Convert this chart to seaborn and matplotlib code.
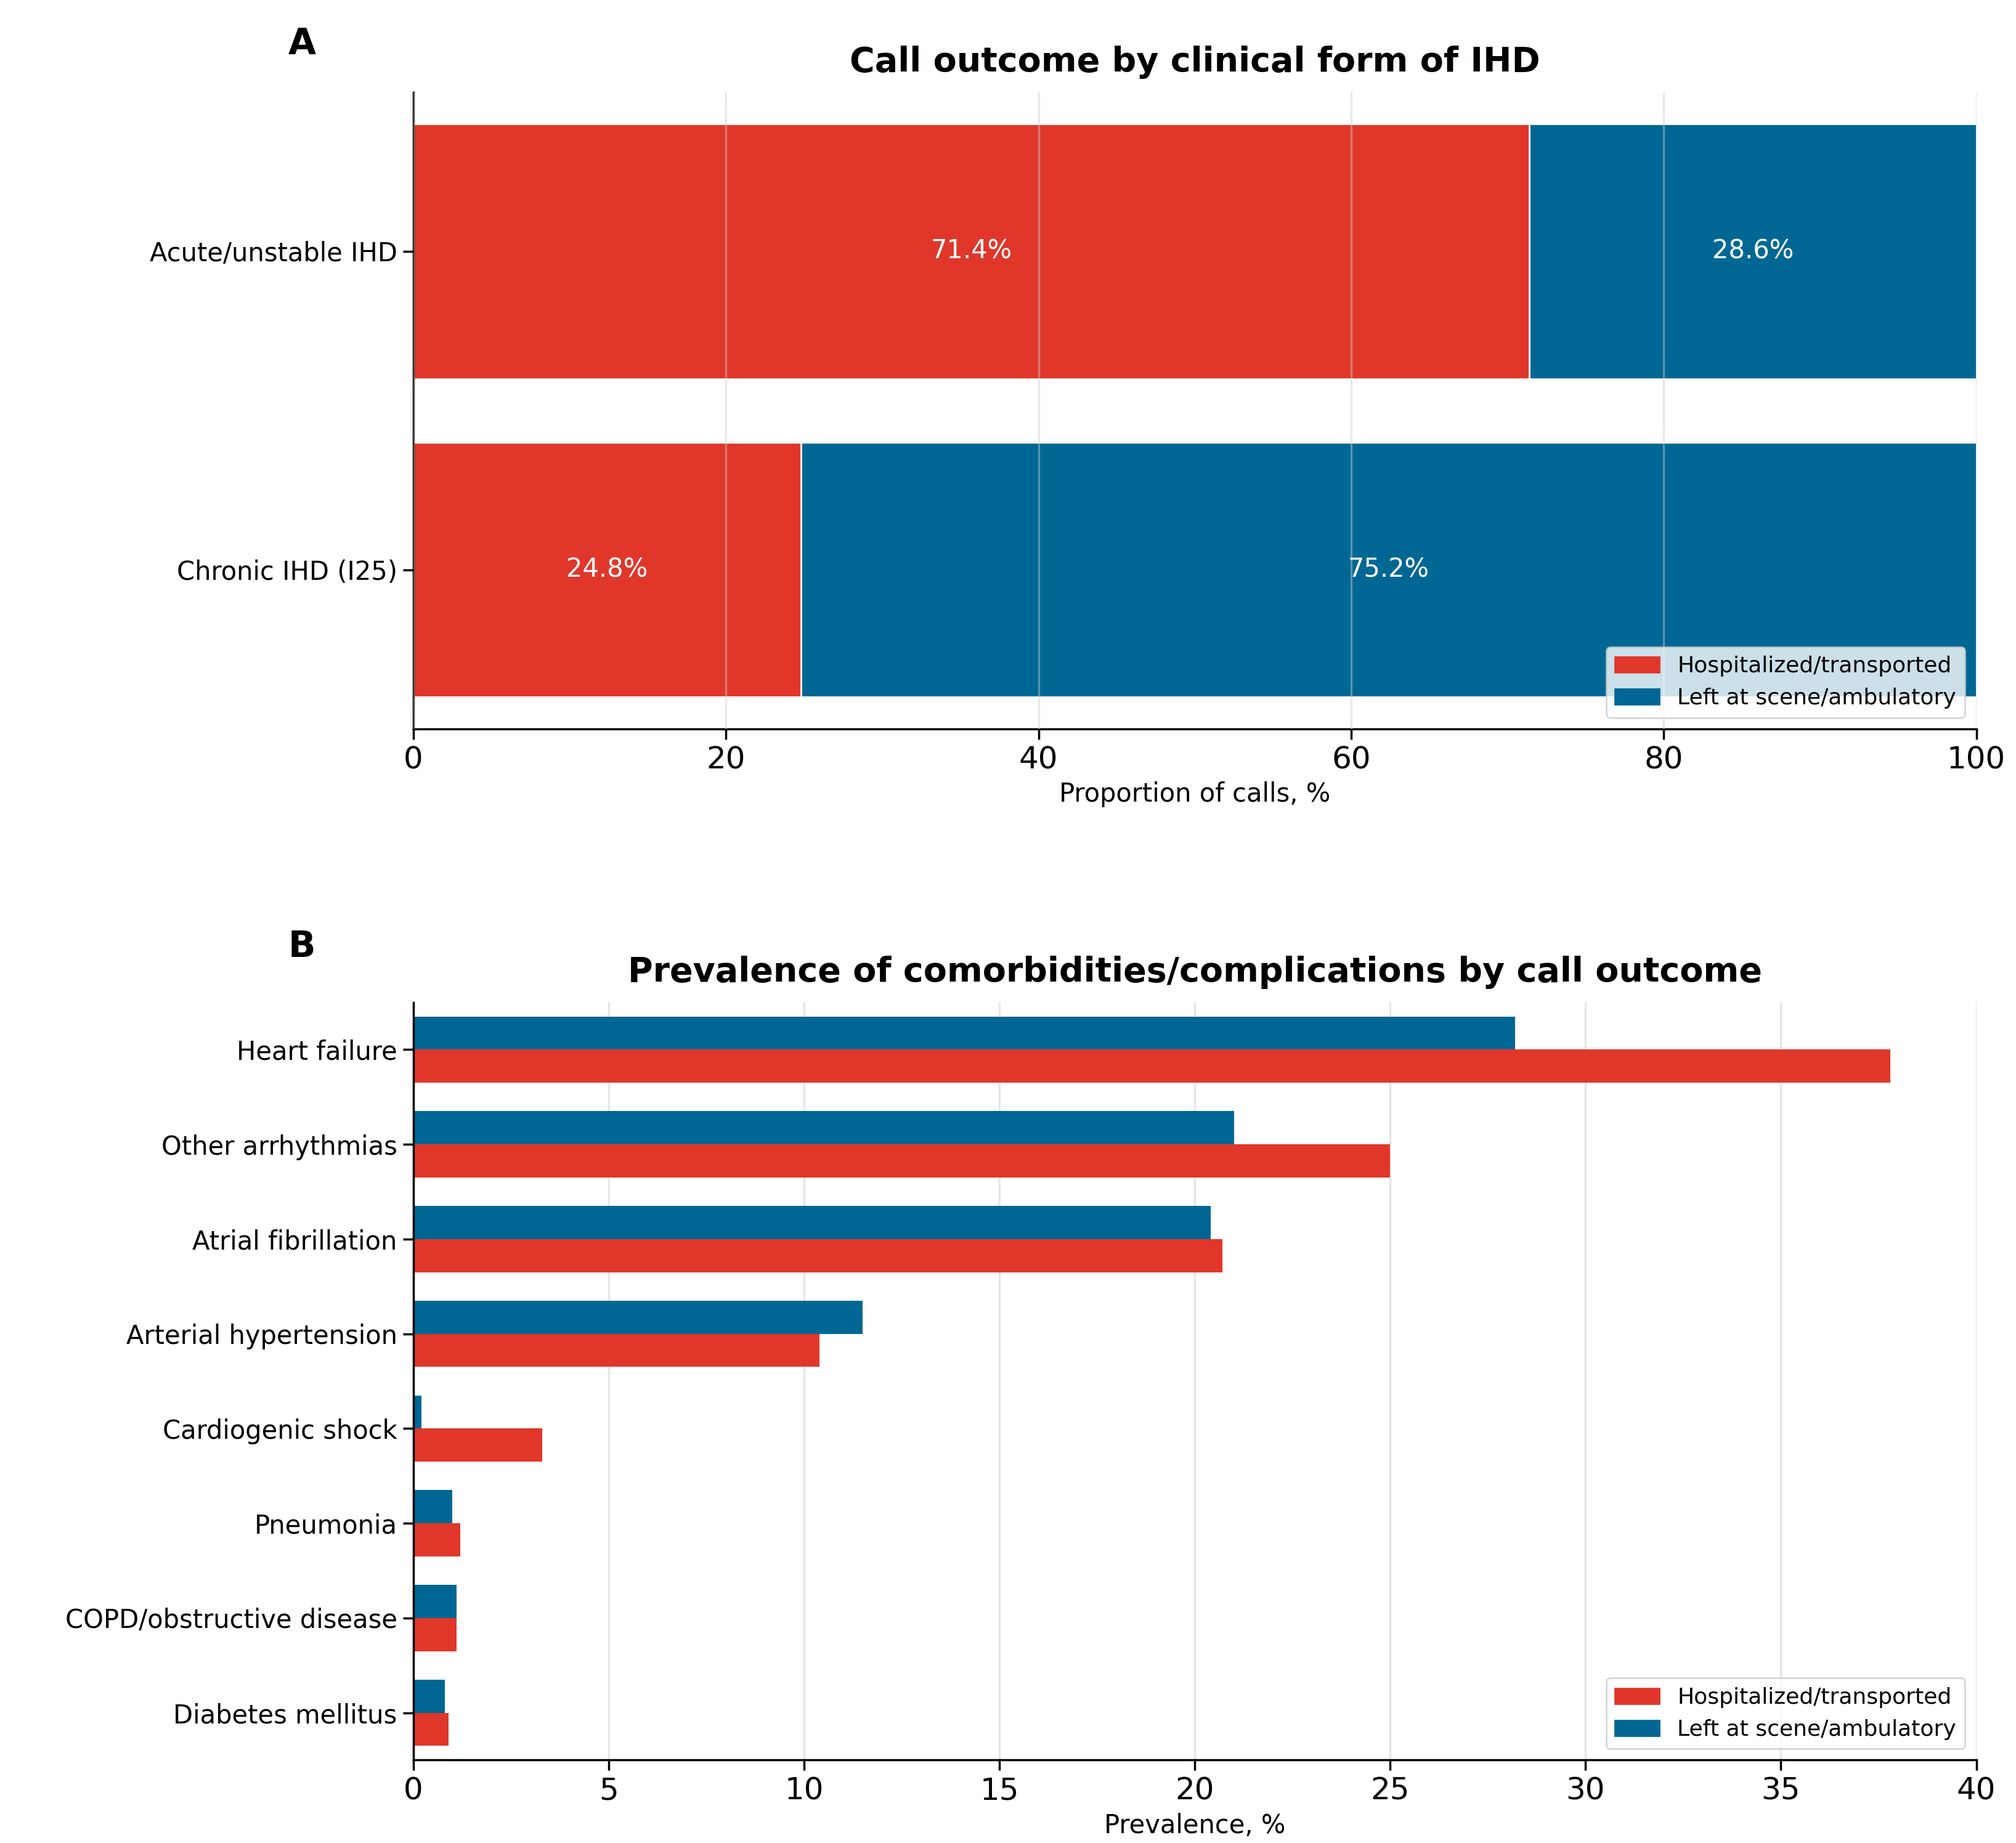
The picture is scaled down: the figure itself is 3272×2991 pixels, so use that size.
import pandas as pd
import matplotlib.pyplot as plt
import seaborn as sns
from matplotlib.patches import Patch

sns.set_theme(style="ticks", rc={'text.color': 'black', 'axes.labelcolor': 'black',
                                 'xtick.color': 'black', 'ytick.color': 'black',
                                 'axes.edgecolor': 'black'})
plt.rcParams['font.family'] = ['DejaVu Sans']

RED = '#E0372A'
BLUE = '#006794'
HOSP = 'Hospitalized/transported'
LEFT = 'Left at scene/ambulatory'

# Panel A data
forms = ['Acute/unstable IHD', 'Chronic IHD (I25)']
hosp_pct = [71.4, 24.8]
left_pct = [28.6, 75.2]

# Panel B data
conditions = ['Heart failure', 'Other arrhythmias', 'Atrial fibrillation',
              'Arterial hypertension', 'Cardiogenic shock', 'Pneumonia',
              'COPD/obstructive disease', 'Diabetes mellitus']
prev_hosp = [37.8, 25.0, 20.7, 10.4, 3.3, 1.2, 1.1, 0.9]
prev_left = [28.2, 21.0, 20.4, 11.5, 0.2, 1.0, 1.1, 0.8]

fig, (axA, axB) = plt.subplots(2, 1, figsize=(16.365, 14.955), dpi=200,
                               gridspec_kw={'height_ratios': [1, 1.19]})

# ── A ──
dfA = pd.DataFrame({'form': forms, 'hosp': hosp_pct, 'left': left_pct})
dfA['total'] = dfA['hosp'] + dfA['left']
sns.barplot(data=dfA, y='form', x='total', color=BLUE, saturation=1, width=0.8, ax=axA, zorder=1)
sns.barplot(data=dfA, y='form', x='hosp', color=RED, saturation=1, width=0.8, ax=axA, zorder=1)
for i, (h, l) in enumerate(zip(hosp_pct, left_pct)):
    axA.text(h / 2, i, f'{h:.1f}%', ha='center', va='center', color='white', fontsize=15)
    axA.text(h + l / 2, i, f'{l:.1f}%', ha='center', va='center', color='white', fontsize=15)
axA.set_xlim(0, 100)
axA.xaxis.grid(True, color='#cccccc', alpha=0.45, linewidth=1.2, zorder=3)
axA.set_axisbelow(False)
axA.set_ylabel('')
axA.set_xlabel('Proportion of calls, %', fontsize=15)
axA.set_title('Call outcome by clinical form of IHD', fontsize=20, fontweight='bold', pad=12)
axA.tick_params(axis='x', labelsize=18, length=6)
axA.tick_params(axis='y', labelsize=15, length=6)
handles = [Patch(color=RED, label=HOSP), Patch(color=BLUE, label=LEFT)]
axA.legend(handles=handles, loc='lower right', fontsize=13, framealpha=0.8)
axA.text(-0.08, 1.06, 'A', transform=axA.transAxes, fontsize=21, fontweight='bold')

# ── B ──
dfB = pd.DataFrame({'condition': conditions * 2,
                    'value': prev_left + prev_hosp,
                    'outcome': [LEFT] * len(conditions) + [HOSP] * len(conditions)})
sns.barplot(data=dfB, y='condition', x='value', hue='outcome', hue_order=[LEFT, HOSP],
            palette={LEFT: BLUE, HOSP: RED}, width=0.7, saturation=1, linewidth=0, ax=axB)
axB.set_xlim(0, 40)
axB.xaxis.grid(True, color='#e6e6e6', linewidth=1.2)
axB.set_axisbelow(True)
axB.set_ylabel('')
axB.set_xlabel('Prevalence, %', fontsize=15)
axB.set_title('Prevalence of comorbidities/complications by call outcome',
              fontsize=20, fontweight='bold', pad=12)
axB.tick_params(axis='x', labelsize=18, length=6)
axB.tick_params(axis='y', labelsize=15, length=6)
axB.legend(handles=handles, loc='lower right', fontsize=13)
axB.text(-0.08, 1.06, 'B', transform=axB.transAxes, fontsize=21, fontweight='bold')

for ax in (axA, axB):
    sns.despine(ax=ax)

plt.tight_layout(h_pad=6)
plt.subplots_adjust(left=0.205, right=0.98, top=0.95, bottom=0.045)
plt.savefig('out.png', dpi=200)
